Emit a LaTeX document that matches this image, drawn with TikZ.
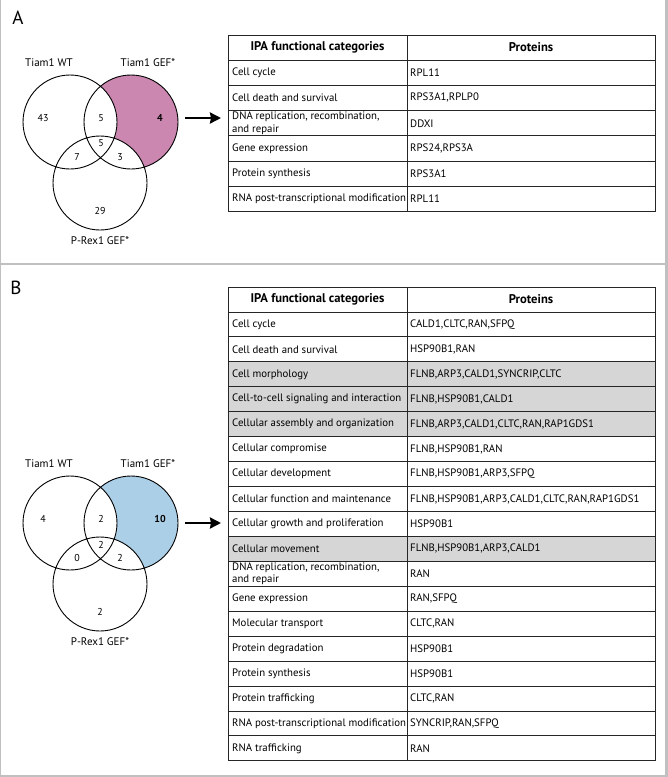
\documentclass[tikz,border=0pt]{standalone}
\usepackage{fontspec}
\setmainfont{PT Sans}
\usetikzlibrary{arrows.meta}
\definecolor{gefpink}{RGB}{203,135,176}
\definecolor{gefblue}{RGB}{172,207,232}
\definecolor{rowgray}{RGB}{214,214,214}
\definecolor{framegray}{RGB}{192,192,192}
\begin{document}
\begin{tikzpicture}[x=1pt,y=-1pt,
    cell/.style={anchor=west,inner sep=0pt,align=left,font=\fontsize{10.8}{12.5}\selectfont},
    hdr/.style={inner sep=0pt,font=\fontsize{12.6}{14}\selectfont\bfseries},
    num/.style={inner sep=0pt,font=\fontsize{10}{12}\selectfont},
    setlabel/.style={inner sep=0pt,font=\fontsize{11}{13}\selectfont},
    panel/.style={inner sep=0pt,font=\fontsize{19}{21}\selectfont},
    arr/.style={line width=2.4pt,-{Stealth[length=11pt,width=11pt,inset=1pt]}},
    grid/.style={draw=black!85,line width=1pt}]
  \useasboundingbox (0,0) rectangle (668,777);
  % frame
  \fill[framegray] (665,0) rectangle (668,777);
  \fill[framegray] (0,775) rectangle (668,777);
  \draw[framegray,line width=1.2pt] (0.6,0) -- (0.6,775);
  \draw[framegray,line width=1.2pt] (0,264) -- (665,264);
  \node[panel] (labA) at (18,18) {A};
  \node[panel] (labB) at (16,288) {B};

  % venn A
  \coordinate (wtA) at (70,122);
  \coordinate (gefA) at (131,122);
  \coordinate (prA) at (100,183);
  \fill[gefpink] (gefA) circle (47);
  \fill[white] (wtA) circle (47) (prA) circle (47);
  \draw[line width=0.9pt] (wtA) circle (47) (gefA) circle (47) (prA) circle (47);
  \node[setlabel] (nwtA) at (49,63) {Tiam1 WT};
  \node[setlabel] (ngefA) at (148,63) {Tiam1 GEF*};
  \node[setlabel] (nprA) at (100,241) {P-Rex1 GEF*};
  \node[num] (a1) at (43,118) {43};
  \node[num] (a2) at (101,118) {5};
  \node[num,font=\fontsize{10}{12}\selectfont\bfseries] (a3) at (160,118) {4};
  \node[num] (a4) at (101,143) {5};
  \node[num] (a5) at (77,157) {7};
  \node[num] (a6) at (120,157) {3};
  \node[num] (a7) at (100,211) {29};
  \coordinate (arrAs) at (185,118);
  \coordinate (arrAe) at (221,118);
  \draw[arr] (arrAs) -- (arrAe);

  % table A
  \filldraw[grid,fill=white] (228,35) rectangle (407,60);
  \filldraw[grid,fill=white] (407,35) rectangle (655,60);
  \node[hdr] (hcatA) at (317.5,47.5) {IPA functional categories};
  \node[hdr] (hprotA) at (531,47.5) {Proteins};
  \foreach \cat/\prot [count=\i] in {Cell cycle/RPL11,
      Cell death and survival/{RPS3A1,RPLP0},
      {DNA replication, recombination,\\and repair}/DDXI,
      Gene expression/{RPS24,RPS3A},
      Protein synthesis/RPS3A1,
      RNA post-transcriptional modification/RPL11} {
    \pgfmathsetmacro{\y}{60+25.3*(\i-1)}
    \filldraw[grid,fill=white] (228,\y) rectangle ++(179,25.3);
    \filldraw[grid,fill=white] (407,\y) rectangle ++(248,25.3);
    \node[cell] (catA\i) at (232,\y+12.65) {\cat};
    \node[cell] (protA\i) at (410,\y+12.65) {\prot};
  }

  % venn B
  \coordinate (wtB) at (70,523);
  \coordinate (gefB) at (131,523);
  \coordinate (prB) at (100,584);
  \fill[gefblue] (gefB) circle (47);
  \fill[white] (wtB) circle (47) (prB) circle (47);
  \draw[line width=0.9pt] (wtB) circle (47) (gefB) circle (47) (prB) circle (47);
  \node[setlabel] (nwtB) at (49,464) {Tiam1 WT};
  \node[setlabel] (ngefB) at (148,464) {Tiam1 GEF*};
  \node[setlabel] (nprB) at (100,642) {P-Rex1 GEF*};
  \node[num] (b1) at (43,519) {4};
  \node[num] (b2) at (101,519) {2};
  \node[num,font=\fontsize{10}{12}\selectfont\bfseries] (b3) at (160,519) {10};
  \node[num] (b4) at (101,545) {2};
  \node[num] (b5) at (77,558) {0};
  \node[num] (b6) at (120,558) {2};
  \node[num] (b7) at (100,612) {2};
  \coordinate (arrBs) at (185,523);
  \coordinate (arrBe) at (221,523);
  \draw[arr] (arrBs) -- (arrBe);

  % table B
  \filldraw[grid,fill=white] (228,287) rectangle (407,312);
  \filldraw[grid,fill=white] (407,287) rectangle (655,312);
  \node[hdr] (hcatB) at (317.5,299.5) {IPA functional categories};
  \node[hdr] (hprotB) at (531,299.5) {Proteins};
  \foreach \cat/\prot/\shd [count=\i] in {Cell cycle/{CALD1,CLTC,RAN,SFPQ}/white,
      Cell death and survival/{HSP90B1,RAN}/white,
      Cell morphology/{FLNB,ARP3,CALD1,SYNCRIP,CLTC}/rowgray,
      Cell-to-cell signaling and interaction/{FLNB,HSP90B1,CALD1}/rowgray,
      Cellular assembly and organization/{FLNB,ARP3,CALD1,CLTC,RAN,RAP1GDS1}/rowgray,
      Cellular compromise/{FLNB,HSP90B1,RAN}/white,
      Cellular development/{FLNB,HSP90B1,ARP3,SFPQ}/white,
      Cellular function and maintenance/{FLNB,HSP90B1,ARP3,CALD1,CLTC,RAN,RAP1GDS1}/white,
      Cellular growth and proliferation/HSP90B1/white,
      Cellular movement/{FLNB,HSP90B1,ARP3,CALD1}/rowgray,
      {DNA replication, recombination,\\and repair}/RAN/white,
      Gene expression/{RAN,SFPQ}/white,
      Molecular transport/{CLTC,RAN}/white,
      Protein degradation/HSP90B1/white,
      Protein synthesis/HSP90B1/white,
      Protein trafficking/{CLTC,RAN}/white,
      RNA post-transcriptional modification/{SYNCRIP,RAN,SFPQ}/white,
      RNA trafficking/RAN/white} {
    \pgfmathsetmacro{\y}{312+24.94*(\i-1)}
    \filldraw[grid,fill=\shd] (228,\y) rectangle ++(179,24.94);
    \filldraw[grid,fill=\shd] (407,\y) rectangle ++(248,24.94);
    \node[cell] (catB\i) at (232,\y+12.47) {\cat};
    \node[cell] (protB\i) at (410,\y+12.47) {\prot};
  }
\end{tikzpicture}
\end{document}
